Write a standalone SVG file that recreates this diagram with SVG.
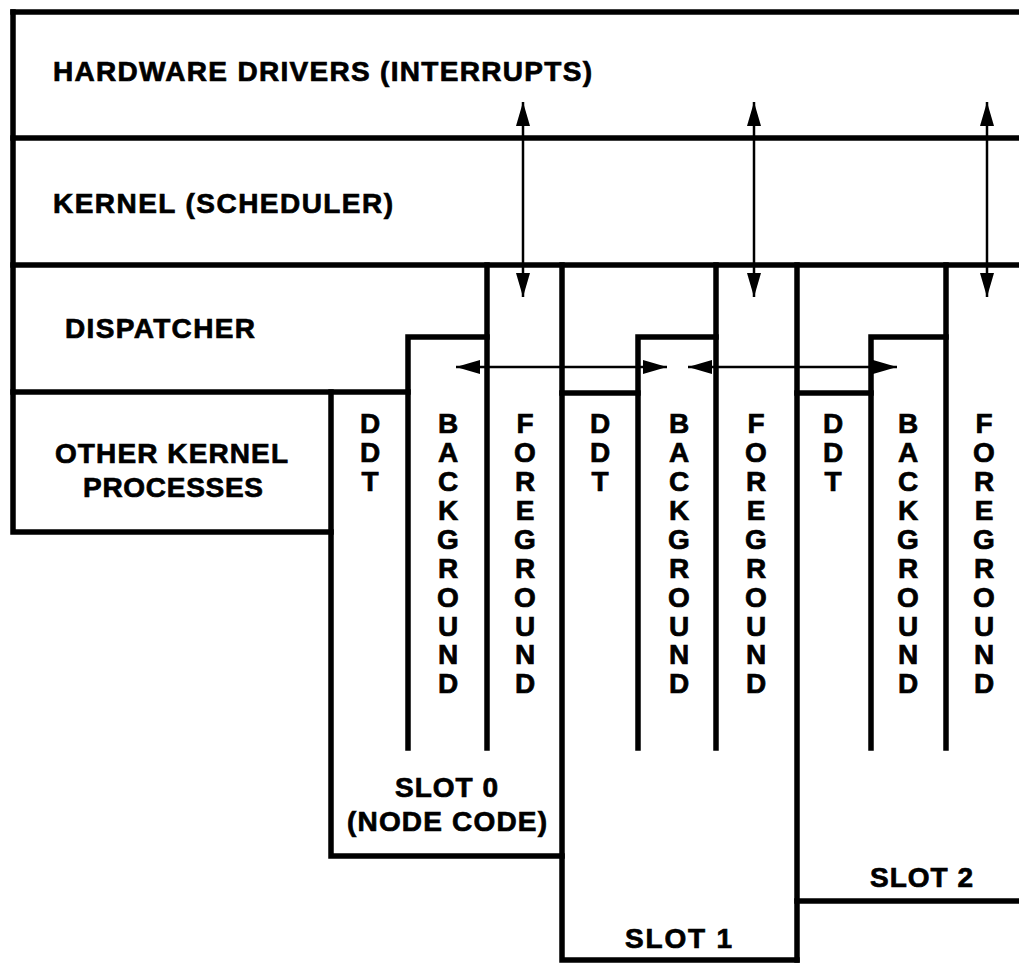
<svg xmlns="http://www.w3.org/2000/svg" width="1019" height="964" viewBox="0 0 1019 964">
<style>
.ln{fill:none;stroke:#000;stroke-width:5.5;stroke-linecap:square;stroke-linejoin:miter}
.ar{fill:none;stroke:#000;stroke-width:2.5;marker-start:url(#ah);marker-end:url(#ah)}
.t{font-family:"Liberation Sans",Arial,Helvetica,sans-serif;font-weight:bold;font-size:28px;fill:#000;stroke:#000;stroke-width:0.7}
.c{text-anchor:middle}
</style>
<defs>
<marker id="ah" markerUnits="userSpaceOnUse" markerWidth="24" markerHeight="14" refX="24" refY="7" orient="auto-start-reverse" viewBox="0 0 24 14">
<path d="M0,0 L24,7 L0,14 z" fill="#000"/>
</marker>
</defs>
<rect width="1019" height="964" fill="#fff"/>
<g id="frame">
<path class="ln" d="M13,12 H1021"/>
<path class="ln" d="M13,12 V532 H331"/>
<path class="ln" d="M13,138 H1021"/>
<path class="ln" d="M13,265 H1021"/>
<path class="ln" d="M13,392 H408"/>
</g>
<g id="hardware-drivers">
<text class="t" x="53" y="81" textLength="539" lengthAdjust="spacing">HARDWARE DRIVERS (INTERRUPTS)</text>
</g>
<g id="kernel">
<text class="t" x="53" y="213" textLength="340" lengthAdjust="spacing">KERNEL (SCHEDULER)</text>
</g>
<g id="dispatcher">
<text class="t" x="65" y="338" textLength="190" lengthAdjust="spacing">DISPATCHER</text>
</g>
<g id="other-kernel">
<text class="t" x="55" y="463" textLength="233" lengthAdjust="spacing">OTHER KERNEL</text>
<text class="t" x="83" y="497" textLength="180" lengthAdjust="spacing">PROCESSES</text>
</g>
<g id="slot0">
<path class="ln" d="M331,392 V856 H562"/>
<path class="ln" d="M408,748 V337 H487"/>
<path class="ln" d="M487,265 V748"/>
<text class="t c" x="370"><tspan x="370" y="433">D</tspan><tspan x="370" y="462">D</tspan><tspan x="370" y="491">T</tspan></text>
<text class="t c"><tspan x="448" y="433">B</tspan><tspan x="448" y="462">A</tspan><tspan x="448" y="491">C</tspan><tspan x="448" y="520">K</tspan><tspan x="448" y="549">G</tspan><tspan x="448" y="578">R</tspan><tspan x="448" y="607">O</tspan><tspan x="448" y="636">U</tspan><tspan x="448" y="664">N</tspan><tspan x="448" y="693">D</tspan></text>
<text class="t c"><tspan x="525" y="433">F</tspan><tspan x="525" y="462">O</tspan><tspan x="525" y="491">R</tspan><tspan x="525" y="520">E</tspan><tspan x="525" y="549">G</tspan><tspan x="525" y="578">R</tspan><tspan x="525" y="607">O</tspan><tspan x="525" y="636">U</tspan><tspan x="525" y="664">N</tspan><tspan x="525" y="693">D</tspan></text>
<text class="t" x="395" y="797" textLength="103" lengthAdjust="spacing">SLOT 0</text>
<text class="t" x="347" y="831" textLength="200" lengthAdjust="spacing">(NODE CODE)</text>
</g>
<g id="slot1">
<path class="ln" d="M562,265 V960 H797"/>
<path class="ln" d="M562,393 H638"/>
<path class="ln" d="M638,748 V337 H716"/>
<path class="ln" d="M716,265 V748"/>
<text class="t c"><tspan x="600" y="433">D</tspan><tspan x="600" y="462">D</tspan><tspan x="600" y="491">T</tspan></text>
<text class="t c"><tspan x="679" y="433">B</tspan><tspan x="679" y="462">A</tspan><tspan x="679" y="491">C</tspan><tspan x="679" y="520">K</tspan><tspan x="679" y="549">G</tspan><tspan x="679" y="578">R</tspan><tspan x="679" y="607">O</tspan><tspan x="679" y="636">U</tspan><tspan x="679" y="664">N</tspan><tspan x="679" y="693">D</tspan></text>
<text class="t c"><tspan x="756" y="433">F</tspan><tspan x="756" y="462">O</tspan><tspan x="756" y="491">R</tspan><tspan x="756" y="520">E</tspan><tspan x="756" y="549">G</tspan><tspan x="756" y="578">R</tspan><tspan x="756" y="607">O</tspan><tspan x="756" y="636">U</tspan><tspan x="756" y="664">N</tspan><tspan x="756" y="693">D</tspan></text>
<text class="t" x="625" y="948" textLength="107" lengthAdjust="spacing">SLOT 1</text>
</g>
<g id="slot2">
<path class="ln" d="M797,265 V960"/>
<path class="ln" d="M797,901 H1021"/>
<path class="ln" d="M797,393 H871"/>
<path class="ln" d="M871,748 V337 H946"/>
<path class="ln" d="M946,265 V748"/>
<text class="t c"><tspan x="833" y="433">D</tspan><tspan x="833" y="462">D</tspan><tspan x="833" y="491">T</tspan></text>
<text class="t c"><tspan x="908" y="433">B</tspan><tspan x="908" y="462">A</tspan><tspan x="908" y="491">C</tspan><tspan x="908" y="520">K</tspan><tspan x="908" y="549">G</tspan><tspan x="908" y="578">R</tspan><tspan x="908" y="607">O</tspan><tspan x="908" y="636">U</tspan><tspan x="908" y="664">N</tspan><tspan x="908" y="693">D</tspan></text>
<text class="t c"><tspan x="984" y="433">F</tspan><tspan x="984" y="462">O</tspan><tspan x="984" y="491">R</tspan><tspan x="984" y="520">E</tspan><tspan x="984" y="549">G</tspan><tspan x="984" y="578">R</tspan><tspan x="984" y="607">O</tspan><tspan x="984" y="636">U</tspan><tspan x="984" y="664">N</tspan><tspan x="984" y="693">D</tspan></text>
<text class="t" x="870" y="887" textLength="103" lengthAdjust="spacing">SLOT 2</text>
</g>
<g id="connectors">
<line class="ar" x1="523" y1="102" x2="523" y2="297"/>
<line class="ar" x1="754" y1="102" x2="754" y2="297"/>
<line class="ar" x1="987" y1="102" x2="987" y2="297"/>
<line class="ar" x1="456" y1="367" x2="667" y2="367"/>
<line class="ar" x1="688" y1="367" x2="897" y2="367"/>
</g>
</svg>
